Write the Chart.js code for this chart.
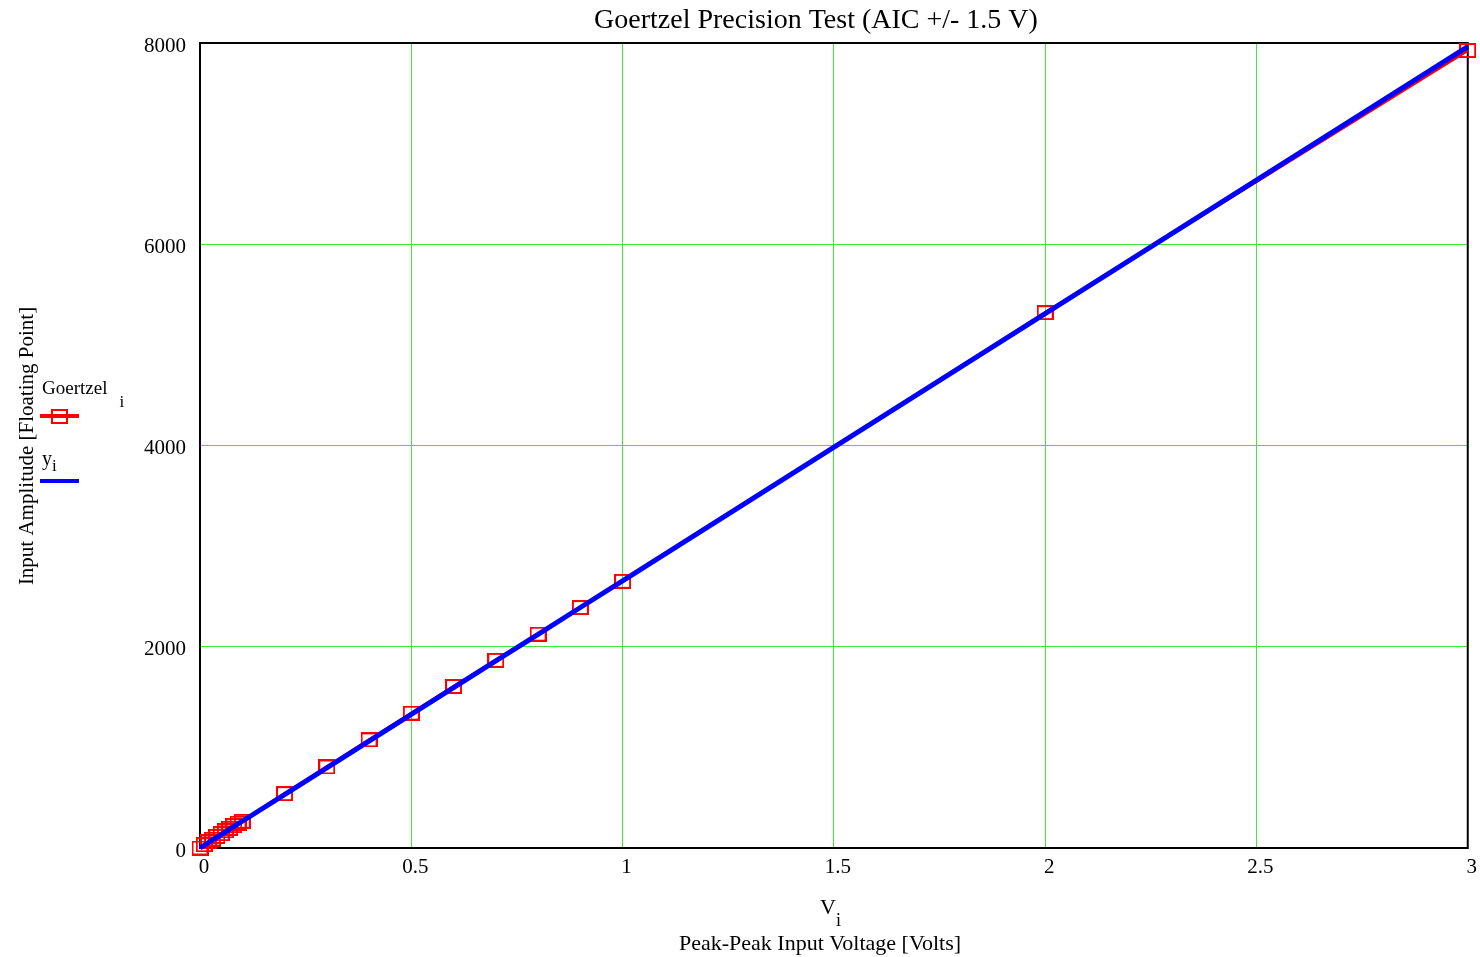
<!DOCTYPE html>
<html>
<head>
<meta charset="utf-8">
<title>Goertzel Precision Test</title>
<script src="https://cdn.jsdelivr.net/npm/chart.js@4/dist/chart.umd.min.js"></script>
<style>
  html, body { margin: 0; padding: 0; background: #fff; }
  #wrap { width: 1480px; height: 957px; position: relative; }
</style>
</head>
<body>
<div id="wrap"><canvas id="chart"></canvas></div>
<script>
// peak-peak input voltage steps (V_i)
const volts = [0, 0.01, 0.02, 0.03, 0.04, 0.05, 0.06, 0.07, 0.08, 0.09, 0.1,
               0.2, 0.3, 0.4, 0.5, 0.6, 0.7, 0.8, 0.9, 1, 2, 3];
// Goertzel output (floating point)
const goertzel = [0, 32, 60, 88, 115, 142, 170, 196, 222, 247, 265,
                  540, 805, 1075, 1340, 1605, 1865, 2125, 2390, 2650, 5320, 7925];
// reference amplitude y_i
const yRef = [0, 27, 53, 80, 106, 133, 159, 186, 212, 239, 266,
              531, 797, 1062, 1328, 1593, 1859, 2124, 2390, 2655, 5310, 7965];

const xTicks = [0, 0.5, 1, 1.5, 2, 2.5, 3];
const yTicks = [0, 2000, 4000, 6000, 8000];

const SERIF = '"Liberation Serif", "Times New Roman", serif';
const RED = '#ff0000';
const BLUE = '#0000ff';
const GRID = '#3fe83f';

// open red box used as the point marker
function makeBox() {
    const c = document.createElement('canvas');
    c.width = 17;
    c.height = 15;
    const g = c.getContext('2d');
    g.strokeStyle = RED;
    g.lineWidth = 2;
    g.strokeRect(1, 1, 15, 13);
    return c;
}
const box = makeBox();

function toPoints(xs, ys) {
    return xs.map((x, i) => ({ x: x, y: ys[i] }));
}

// text with a subscript, left aligned
function subText(ctx, text, sub, x, y, size, subSize, dx, dy) {
    ctx.font = size + 'px ' + SERIF;
    ctx.textAlign = 'left';
    ctx.textBaseline = 'alphabetic';
    ctx.fillText(text, x, y);
    const w = ctx.measureText(text).width;
    ctx.font = subSize + 'px ' + SERIF;
    ctx.fillText(sub, x + w + dx, y + dy);
}

const frame = {
    id: 'frame',
    beforeDatasetsDraw(chart) {
        const a = chart.chartArea;
        const ctx = chart.ctx;
        ctx.save();
        ctx.strokeStyle = '#000';
        ctx.lineWidth = 2;
        ctx.strokeRect(a.left, a.top, a.right - a.left, a.bottom - a.top);
        ctx.restore();
    }
};

const labels = {
    id: 'labels',
    afterDraw(chart) {
        const ctx = chart.ctx;
        ctx.save();
        ctx.fillStyle = '#000';

        // title
        ctx.font = '28px ' + SERIF;
        ctx.textAlign = 'center';
        ctx.textBaseline = 'alphabetic';
        ctx.fillText('Goertzel Precision Test (AIC +/- 1.5 V)', 816, 28);

        // x axis title
        subText(ctx, 'V', 'i', 820, 914, 22, 18, 0, 12);
        ctx.font = '22px ' + SERIF;
        ctx.textAlign = 'center';
        ctx.fillText('Peak-Peak Input Voltage [Volts]', 820, 950);

        // y axis title
        ctx.save();
        ctx.translate(33, 446);
        ctx.rotate(-Math.PI / 2);
        ctx.font = '21px ' + SERIF;
        ctx.textAlign = 'center';
        ctx.fillText('Input Amplitude [Floating Point]', 0, 0);
        ctx.restore();

        // legend
        subText(ctx, 'Goertzel', 'i', 42, 394, 19, 17, 12, 13);
        ctx.lineCap = 'butt';
        ctx.strokeStyle = RED;
        ctx.lineWidth = 4;
        ctx.beginPath();
        ctx.moveTo(40, 416);
        ctx.lineTo(79, 416);
        ctx.stroke();
        ctx.drawImage(box, 51, 409);

        subText(ctx, 'y', 'i', 42, 465, 20, 17, 0, 6);
        ctx.strokeStyle = BLUE;
        ctx.beginPath();
        ctx.moveTo(40, 481);
        ctx.lineTo(79, 481);
        ctx.stroke();

        ctx.restore();
    }
};

new Chart(document.getElementById('chart'), {
    type: 'scatter',
    data: {
        datasets: [
            {
                label: 'y_i',
                data: toPoints(volts, yRef),
                showLine: true,
                borderColor: BLUE,
                borderWidth: 5,
                pointRadius: 0,
                order: 0,
                clip: false
            },
            {
                label: 'Goertzel_i',
                data: toPoints(volts, goertzel),
                showLine: true,
                borderColor: RED,
                borderWidth: 3,
                pointStyle: box,
                pointRadius: 7,
                order: 1,
                clip: false
            }
        ]
    },
    options: {
        responsive: true,
        maintainAspectRatio: false,
        animation: false,
        layout: { padding: { top: 43, right: 12, left: 0, bottom: 0 } },
        plugins: {
            legend: { display: false },
            tooltip: { enabled: false },
            title: { display: false }
        },
        scales: {
            x: {
                type: 'linear',
                min: 0,
                max: 3,
                afterBuildTicks: s => { s.ticks = xTicks.map(v => ({ value: v })); },
                afterFit: s => { s.height = 109; },
                grid: { color: GRID, lineWidth: 1, drawTicks: false },
                border: { display: false },
                ticks: {
                    color: '#000',
                    font: { family: SERIF, size: 21 },
                    padding: 7,
                    labelOffset: 4,
                    maxRotation: 0,
                    callback: v => String(v)
                }
            },
            y: {
                type: 'linear',
                min: 0,
                max: 8000,
                afterBuildTicks: s => { s.ticks = yTicks.map(v => ({ value: v })); },
                afterFit: s => { s.width = 200; },
                grid: { color: GRID, lineWidth: 1, drawTicks: false },
                border: { display: false },
                ticks: {
                    color: '#000',
                    font: { family: SERIF, size: 21 },
                    padding: 14,
                    labelOffset: 3,
                    callback: v => String(v)
                }
            }
        }
    },
    plugins: [frame, labels]
});
</script>
</body>
</html>
